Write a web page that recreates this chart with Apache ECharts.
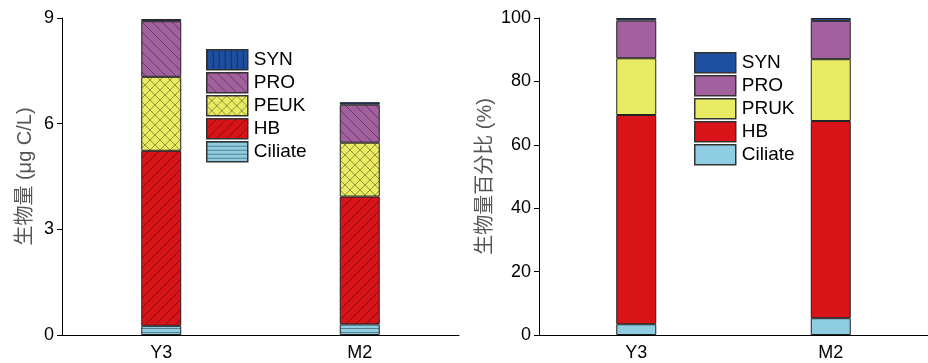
<!DOCTYPE html>
<html>
<head>
<meta charset="utf-8">
<script src="https://cdn.jsdelivr.net/npm/echarts@6/dist/echarts.min.js"></script>
<style>html,body{margin:0;padding:0;background:#fff}#c{width:928px;height:363px}</style>
</head>
<body>
<div id="c"></div>
<script>
// ---- data ----
const categories = ['Y3', 'M2'];
// left panel: biomass (μg C/L)
const bioCiliate = [0.26, 0.30];
const bioHB      = [4.97, 3.63];
const bioPEUK    = [2.10, 1.53];
const bioPRO     = [1.58, 1.08];
const bioSYN     = [0.06, 0.07];
// right panel: biomass percentage (%)
const pctCiliate = [3.4, 5.3];
const pctHB      = [66.0, 62.2];
const pctPRUK    = [17.9, 19.5];
const pctPRO     = [11.9, 12.1];
const pctSYN     = [0.8, 0.9];
const leftTicks  = {min: 0, max: 9, interval: 3};
const rightTicks = {min: 0, max: 100, interval: 20};

// ---- styles ----
const C = {SYN: '#1e4f9e', PRO: '#a2609f', PEUK: '#e9ec62', HB: '#d81419', Ciliate: '#8ecde2'};
function pat(bg, kind) {
  const s = kind === 'h' ? 4 : (kind === 'v' ? 6 : 10);
  const cv = document.createElement('canvas');
  cv.width = s; cv.height = s;
  const g = cv.getContext('2d');
  g.fillStyle = bg; g.fillRect(0, 0, s, s);
  g.strokeStyle = 'rgba(0,0,0,0.38)'; g.lineWidth = 1;
  g.beginPath();
  if (kind === 'h') { g.moveTo(0, 0.5); g.lineTo(s, 0.5); }
  if (kind === 'v') { g.moveTo(0.5, 0); g.lineTo(0.5, s); }
  if (kind === '/' || kind === 'x') {
    g.moveTo(-1, s + 1); g.lineTo(s + 1, -1);
    g.moveTo(-2, 1); g.lineTo(1, -2);
    g.moveTo(s - 1, s + 2); g.lineTo(s + 2, s - 1);
  }
  if (kind === '\\' || kind === 'x') {
    g.moveTo(-1, -1); g.lineTo(s + 1, s + 1);
    g.moveTo(-2, s - 1); g.lineTo(1, s + 2);
    g.moveTo(s - 1, -2); g.lineTo(s + 2, 1);
  }
  g.stroke();
  return {image: cv, repeat: 'repeat'};
}
const P = {
  SYN: pat(C.SYN, 'v'), PRO: pat(C.PRO, '\\'), PEUK: pat(C.PEUK, 'x'),
  HB: pat(C.HB, '/'), Ciliate: pat(C.Ciliate, 'h')
};
const FONT = '"Liberation Sans", Arial, "Noto Sans CJK SC", sans-serif';
const border = {borderColor: '#222', borderWidth: 1};

function bar(name, data, color, idx, legendName) {
  return {
    name: legendName, type: 'bar', stack: 's' + idx, data: data,
    xAxisIndex: idx, yAxisIndex: idx, barWidth: 40,
    itemStyle: Object.assign({color: color}, border),
    emphasis: {disabled: true}
  };
}
const leftNames = ['Ciliate', 'HB', 'PEUK', 'PRO', 'SYN'];
const leftData = [bioCiliate, bioHB, bioPEUK, bioPRO, bioSYN];
const rightNames = ['Ciliate', 'HB', 'PRUK', 'PRO', 'SYN'];
const rightKeys = ['Ciliate', 'HB', 'PEUK', 'PRO', 'SYN'];
const rightData = [pctCiliate, pctHB, pctPRUK, pctPRO, pctSYN];

const series = [];
leftNames.forEach((n, i) => series.push(bar(n, leftData[i], P[n], 0, 'L_' + n)));
rightNames.forEach((n, i) => series.push(bar(n, rightData[i], C[rightKeys[i]], 1, 'R_' + n)));

function xAx(gi) {
  return {
    type: 'category', gridIndex: gi, data: categories,
    axisLine: {lineStyle: {color: '#000', width: 1}},
    axisTick: {alignWithLabel: true, length: 5, lineStyle: {color: '#000'}},
    axisLabel: {color: '#000', fontSize: 18, fontFamily: FONT, margin: 9}
  };
}
function yAx(gi, t, name, gap) {
  return {
    type: 'value', gridIndex: gi, min: t.min, max: t.max, interval: t.interval,
    name: name, nameLocation: 'middle', nameGap: gap, nameRotate: 90,
    nameTextStyle: {color: '#555', fontSize: 20, fontFamily: FONT},
    axisLine: {show: true, lineStyle: {color: '#000', width: 1}},
    axisTick: {show: true, length: 5, lineStyle: {color: '#000'}},
    axisLabel: {color: '#000', fontSize: 18, fontFamily: FONT, margin: 8},
    splitLine: {show: false}
  };
}
function legend(left, top, prefix, names) {
  return {
    orient: 'vertical', left: left, top: top, padding: 0,
    itemWidth: 41, itemHeight: 20, itemGap: 1.5, icon: 'rect',
    data: names.slice().reverse().map(n => prefix + n),
    formatter: s => s.slice(2),
    textStyle: {color: '#000', fontSize: 19, fontFamily: FONT, padding: [0, 0, 0, 1]},
    itemStyle: {borderColor: '#333', borderWidth: 1.5},
    selectedMode: false
  };
}

const chart = echarts.init(document.getElementById('c'), null, {renderer: 'canvas'});
chart.setOption({
  animation: false,
  backgroundColor: '#fff',
  grid: [
    {left: 62, top: 18, width: 397, height: 317},
    {left: 539, top: 18, width: 395, height: 317}
  ],
  xAxis: [xAx(0), xAx(1)],
  yAxis: [yAx(0, leftTicks, '生物量 (μg C/L)', 27), yAx(1, rightTicks, '生物量百分比 (%)', 44)],
  legend: [legend(206, 49, 'L_', leftNames), legend(694, 52, 'R_', rightNames)],
  series: series
});
</script>
</body>
</html>
